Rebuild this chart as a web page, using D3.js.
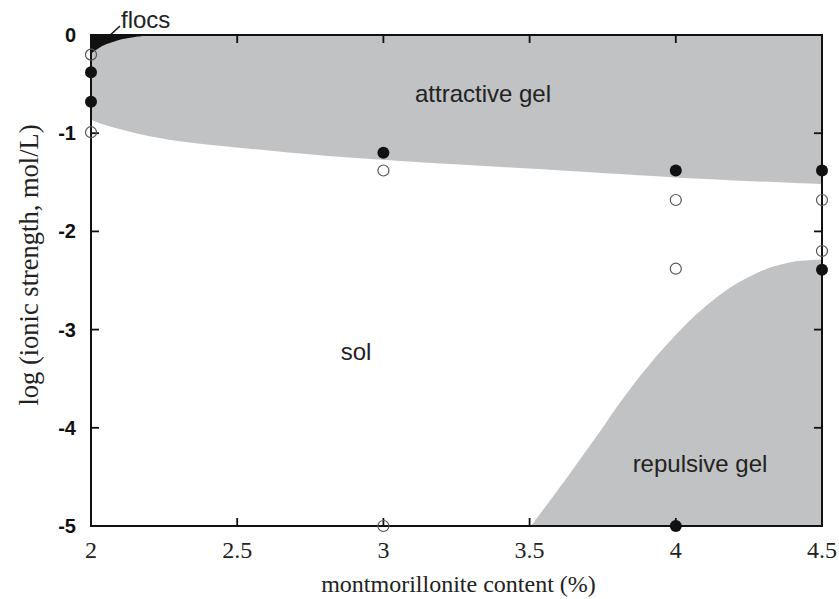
<!DOCTYPE html>
<html><head><meta charset="utf-8">
<script src="https://cdn.jsdelivr.net/npm/d3@7"></script>
<style>body{margin:0;background:#fff}</style>
</head><body>
<svg id="c" width="839" height="599"></svg>
<script>
// ---- data ----
const xTicks = [2, 2.5, 3, 3.5, 4, 4.5];
const xTickLabels = ["2", "2.5", "3", "3.5", "4", "4.5"];
const yTicks = [0, -1, -2, -3, -4, -5];
const yTickLabels = ["0", "-1", "-2", "-3", "-4", "-5"];

// attractive gel lower boundary
const attrX = [2, 2.04, 2.1, 2.2, 2.35, 2.55, 2.8, 3.1, 3.5, 4.0, 4.5];
const attrY = [-0.86, -0.91, -0.96, -1.03, -1.10, -1.16, -1.23, -1.29, -1.36, -1.45, -1.52];
// repulsive gel upper boundary
const repX = [3.505, 3.565, 3.625, 3.685, 3.745, 3.80, 3.86, 3.92, 3.97, 4.03, 4.083, 4.14, 4.197, 4.26, 4.311, 4.37, 4.425, 4.5];
const repY = [-5, -4.76, -4.52, -4.27, -4.02, -3.78, -3.54, -3.32, -3.15, -2.96, -2.81, -2.67, -2.55, -2.45, -2.38, -2.33, -2.30, -2.285];
// flocs lower boundary
const flocX = [2, 2.04, 2.09, 2.15, 2.22];
const flocY = [-0.19, -0.11, -0.055, -0.02, 0];

// measured states
const filledX = [2, 2, 3, 4, 4.5, 4.5, 4];
const filledY = [-0.38, -0.68, -1.2, -1.38, -1.38, -2.39, -5];
const openX = [2, 2, 3, 4, 4, 4.5, 4.5, 3];
const openY = [-0.2, -0.99, -1.38, -1.68, -2.38, -1.68, -2.2, -5];

// ---- layout ----
const L = 91, R = 822, T = 35, B = 526;
const svg = d3.select("#c");
const x = d3.scaleLinear().domain([2, 4.5]).range([L, R]);
const y = d3.scaleLinear().domain([-5, 0]).range([B, T]);
const gray = "#c1c2c4";

const lineC = d3.line().x(d => x(d[0])).y(d => y(d[1])).curve(d3.curveCatmullRom.alpha(0.5));

// attractive gel region
const attrPts = attrX.map((v, i) => [v, attrY[i]]);
svg.append("path")
  .attr("d", lineC(attrPts) + `L${x(4.5)},${y(0)}L${x(2)},${y(0)}Z`)
  .attr("fill", gray);

// repulsive gel region
const repPts = repX.map((v, i) => [v, repY[i]]);
svg.append("path")
  .attr("d", lineC(repPts) + `L${x(4.5)},${y(-5)}Z`)
  .attr("fill", gray);

// flocs
const flocPts = flocX.map((v, i) => [v, flocY[i]]);
svg.append("path")
  .attr("d", lineC(flocPts) + `L${x(2)},${y(0)}Z`)
  .attr("fill", "#111");

// axes (box with inward ticks)
const ax = svg.append("g").attr("stroke", "#111").attr("fill", "none");
ax.append("rect").attr("x", L).attr("y", T).attr("width", R - L).attr("height", B - T).attr("stroke-width", 2);
const tl = 8;
xTicks.slice(1, -1).forEach(v => {
  ax.append("line").attr("x1", x(v)).attr("x2", x(v)).attr("y1", B).attr("y2", B - tl).attr("stroke-width", 1.8);
  ax.append("line").attr("x1", x(v)).attr("x2", x(v)).attr("y1", T).attr("y2", T + tl).attr("stroke-width", 1.8);
});
yTicks.slice(1, -1).forEach(v => {
  ax.append("line").attr("x1", L).attr("x2", L + tl).attr("y1", y(v)).attr("y2", y(v)).attr("stroke-width", 1.8);
  ax.append("line").attr("x1", R).attr("x2", R - tl).attr("y1", y(v)).attr("y2", y(v)).attr("stroke-width", 1.8);
});

// tick labels
svg.append("g").selectAll("text").data(xTicks).join("text")
  .attr("x", d => x(d)).attr("y", 558).attr("text-anchor", "middle")
  .attr("font-family", "Liberation Serif, Times New Roman, serif").attr("font-size", 24)
  .attr("fill", "#222").text((d, i) => xTickLabels[i]);
svg.append("g").selectAll("text").data(yTicks).join("text")
  .attr("x", 76).attr("y", d => y(d) + 7).attr("text-anchor", "end")
  .attr("font-family", "Liberation Sans, Arial, sans-serif").attr("font-weight", "bold").attr("font-size", 20)
  .attr("fill", "#111").text((d, i) => yTickLabels[i]);

// axis titles
svg.append("text").attr("x", (L + R) / 2 + 2).attr("y", 592).attr("text-anchor", "middle")
  .attr("font-family", "Liberation Serif, Times New Roman, serif").attr("font-size", 24)
  .attr("fill", "#222").text("montmorillonite content (%)");
svg.append("text").attr("transform", "translate(38,265) rotate(-90)").attr("text-anchor", "middle")
  .attr("font-family", "Liberation Serif, Times New Roman, serif").attr("font-size", 26.5)
  .attr("fill", "#222").text("log (ionic strength, mol/L)");

// points
svg.append("g").selectAll("circle").data(openX).join("circle")
  .attr("cx", d => x(d)).attr("cy", (d, i) => y(openY[i])).attr("r", 5.5)
  .attr("fill", "none").attr("stroke", "#555").attr("stroke-width", 1.2);
svg.append("g").selectAll("circle").data(filledX).join("circle")
  .attr("cx", d => x(d)).attr("cy", (d, i) => y(filledY[i])).attr("r", 6)
  .attr("fill", "#111");

// region labels
const lab = (t, cx, by) => svg.append("text").attr("x", cx).attr("y", by).attr("text-anchor", "middle")
  .attr("font-family", "Liberation Sans, Arial, sans-serif").attr("font-size", 24).attr("fill", "#222").text(t);
lab("attractive gel", 483, 102);
lab("sol", 356, 360);
lab("repulsive gel", 700, 472);
svg.append("text").attr("x", 121).attr("y", 28)
  .attr("font-family", "Liberation Sans, Arial, sans-serif").attr("font-size", 24).attr("fill", "#222").text("flocs");
svg.append("line").attr("x1", 107).attr("y1", 38).attr("x2", 120).attr("y2", 26)
  .attr("stroke", "#111").attr("stroke-width", 1.5);
</script>
</body></html>
